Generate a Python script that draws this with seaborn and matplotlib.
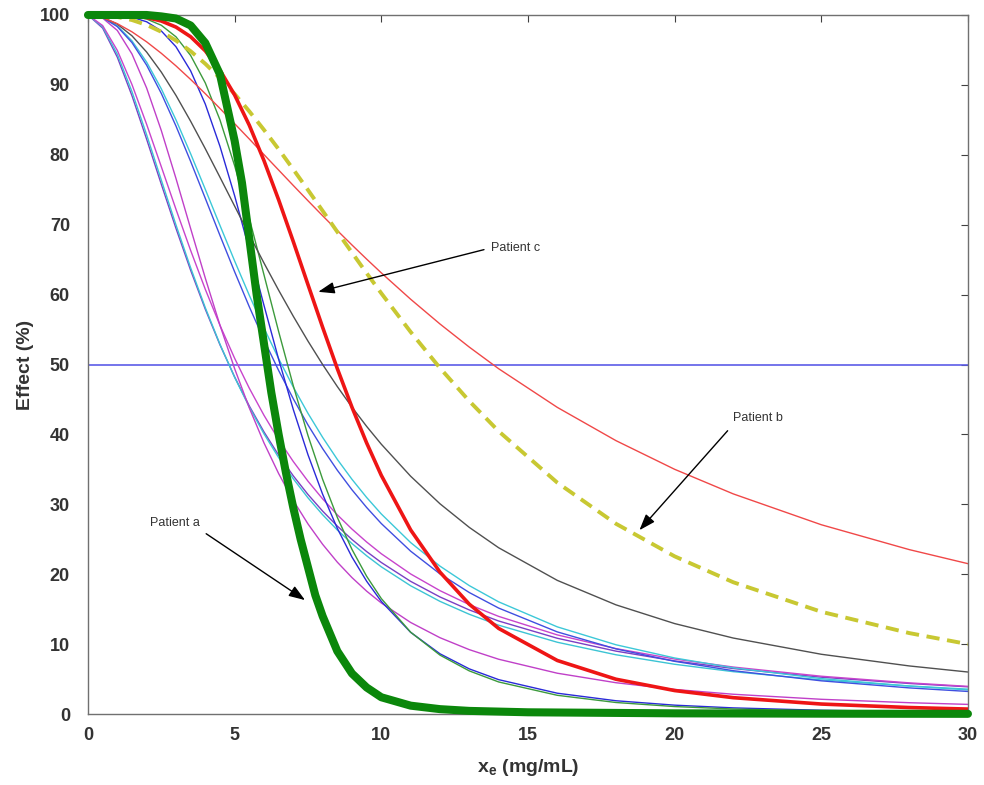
import numpy as np
import pandas as pd
import matplotlib
matplotlib.use("Agg")
import matplotlib.pyplot as plt
import seaborn as sns

# ---------------- data ----------------
conc = [0, 0.5, 1, 1.5, 2, 2.5, 3, 3.5, 4, 4.5, 5, 5.5, 6, 6.5, 7, 7.5, 8, 8.5, 9, 9.5,
        10, 11, 12, 13, 14, 16, 18, 20, 22, 25, 28, 30]

violet = [100, 98.13, 93.97, 88.45, 82.23, 75.79, 69.48, 63.48, 57.91, 52.82, 48.22,
          44.07, 40.36, 37.04, 34.07, 31.41, 29.03, 26.89, 24.97, 23.24, 21.68, 18.98,
          16.75, 14.89, 13.31, 10.84, 9.00, 7.60, 6.51, 5.27, 4.37, 3.89]
cyan_low = [100, 98.32, 94.39, 89.03, 82.86, 76.39, 69.97, 63.84, 58.13, 52.90, 48.17,
            43.91, 40.09, 36.68, 33.65, 30.93, 28.51, 26.33, 24.39, 22.64, 21.06, 18.35,
            16.12, 14.27, 12.71, 10.27, 8.48, 7.12, 6.06, 4.88, 4.01, 3.56]
magenta_up = [100, 98.49, 94.94, 90.05, 84.36, 78.30, 72.21, 66.32, 60.76, 55.61, 50.89,
              46.61, 42.74, 39.25, 36.12, 33.31, 30.78, 28.50, 26.46, 24.61, 22.93, 20.04,
              17.65, 15.65, 13.97, 11.32, 9.36, 7.87, 6.72, 5.41, 4.46, 3.96]
magenta_low = [100, 99.56, 97.79, 94.42, 89.55, 83.47, 76.62, 69.45, 62.36, 55.62, 49.41,
               43.79, 38.79, 34.40, 30.55, 27.20, 24.28, 21.73, 19.52, 17.58, 15.89, 13.10,
               10.92, 9.21, 7.84, 5.84, 4.48, 3.52, 2.83, 2.11, 1.62, 1.38]
cyan_top = [100, 99.66, 98.45, 96.30, 93.26, 89.44, 85.00, 80.15, 75.06, 69.90, 64.81,
            59.90, 55.22, 50.84, 46.77, 43.02, 39.58, 36.43, 33.58, 30.98, 28.62, 24.53,
            21.16, 18.37, 16.05, 12.47, 9.91, 8.02, 6.61, 5.07, 4.00, 3.45]
blue_mid = [100, 99.63, 98.34, 96.05, 92.82, 88.78, 84.12, 79.05, 73.77, 68.46, 63.26,
            58.26, 53.54, 49.15, 45.09, 41.36, 37.97, 34.88, 32.08, 29.55, 27.25, 23.30,
            20.05, 17.38, 15.16, 11.75, 9.32, 7.54, 6.20, 4.75, 3.74, 3.23]
blue_steep = [100, 100, 99.93, 99.68, 99.03, 97.72, 95.46, 92.01, 87.25, 81.21, 74.14,
              66.41, 58.47, 50.75, 43.56, 37.10, 31.44, 26.57, 22.46, 19.00, 16.11, 11.69,
              8.62, 6.46, 4.92, 2.98, 1.90, 1.27, 0.88, 0.54, 0.35, 0.26]
green_thin = [100, 100, 99.97, 99.83, 99.42, 98.53, 96.88, 94.21, 90.28, 84.99, 78.44,
              70.91, 62.84, 54.72, 46.96, 39.85, 33.57, 28.14, 23.55, 19.71, 16.52, 11.71,
              8.43, 6.17, 4.59, 2.68, 1.65, 1.07, 0.72, 0.42, 0.26, 0.20]
gray = [100, 99.69, 98.69, 97.02, 94.70, 91.83, 88.50, 84.80, 80.87, 76.79, 72.66,
        68.55, 64.52, 60.63, 56.90, 53.35, 50.00, 46.85, 43.90, 41.15, 38.60, 34.02,
        30.08, 26.70, 23.79, 19.12, 15.62, 12.94, 10.87, 8.55, 6.88, 6.01]
red_thin = [100, 99.61, 98.76, 97.59, 96.16, 94.52, 92.72, 90.78, 88.74, 86.63, 84.45,
            82.26, 80.03, 77.82, 75.61, 73.43, 71.28, 69.17, 67.10, 65.08, 63.11, 59.34,
            55.80, 52.49, 49.40, 43.87, 39.11, 35.01, 31.49, 27.08, 23.52, 21.51]
patient_b = [100, 99.95, 99.72, 99.28, 98.58, 97.60, 96.35, 94.82, 93.02, 90.97, 88.70,
             86.22, 83.57, 80.80, 77.91, 74.97, 71.98, 68.98, 66.01, 63.07, 60.19, 54.66,
             49.50, 44.77, 40.46, 33.10, 27.22, 22.56, 18.85, 14.63, 11.58, 10.00]
patient_c = [100, 100, 99.98, 99.88, 99.64, 99.14, 98.27, 96.89, 94.87, 92.11, 88.56,
             84.23, 79.17, 73.56, 67.58, 61.43, 55.32, 49.42, 43.89, 38.78, 34.14, 26.34,
             20.30, 15.71, 12.25, 7.66, 4.98, 3.36, 2.34, 1.43, 0.93, 0.71]

conc_a = [0, 1, 2, 2.5, 3, 3.5, 4, 4.5, 5, 5.25, 5.5, 5.75, 6, 6.25, 6.5, 6.75, 7, 7.25,
          7.5, 7.75, 8, 8.5, 9, 9.5, 10, 11, 12, 13, 15, 20, 25, 30]
patient_a = [100, 100, 100, 99.8, 99.5, 98.5, 96, 91.5, 82, 76, 68, 60, 53, 46, 40, 34.5,
             29.5, 25, 21, 17, 14, 9, 5.8, 3.8, 2.4, 1.2, 0.7, 0.45, 0.25, 0.1, 0.05, 0.03]

half_effect = 50
x_ticks = [0, 5, 10, 15, 20, 25, 30]
y_ticks = [0, 10, 20, 30, 40, 50, 60, 70, 80, 90, 100]

labels = ["Patient a", "Patient b", "Patient c"]
label_text_pos = [(2.1, 27.3), (22.0, 42.3), (13.75, 66.7)]
label_arrow_tip = [(7.4, 16.3), (18.8, 26.3), (7.85, 60.4)]

# ---------------- style ----------------
sns.set_theme(style="white")
plt.rcParams["font.family"] = ["Liberation Sans", "DejaVu Sans"]
plt.rcParams["lines.scale_dashes"] = False
plt.rcParams["mathtext.fontset"] = "custom"
plt.rcParams["mathtext.rm"] = "Liberation Sans"
plt.rcParams["mathtext.bf"] = "Liberation Sans:bold"

fig = plt.figure(figsize=(9.84, 7.85), dpi=100)
ax = fig.add_axes([0.0894, 0.0904, 0.8943, 0.8905])

ax.axhline(half_effect, color="#5c5ce8", lw=1.2, zorder=1)

thin = [
    (violet, "#7a3fc4"),
    (cyan_low, "#3cc4d4"),
    (magenta_up, "#c844cc"),
    (magenta_low, "#c040c8"),
    (cyan_top, "#3cc8d8"),
    (blue_mid, "#3f4fe0"),
    (blue_steep, "#2a2ad8"),
    (green_thin, "#3c9a3c"),
    (gray, "#505050"),
    (red_thin, "#f04848"),
]
for vals, col in thin:
    sns.lineplot(x=conc, y=vals, color=col, lw=1.0, ax=ax, zorder=2, sort=False,
                 errorbar=None)

sns.lineplot(x=conc, y=patient_b, color="#c8c832", lw=2.8, ax=ax, zorder=3,
             sort=False, errorbar=None)
ax.lines[-1].set_dashes([9.5, 5.5])
sns.lineplot(x=conc, y=patient_c, color="#ee1515", lw=2.6, ax=ax, zorder=4,
             sort=False, errorbar=None)
sns.lineplot(x=conc_a, y=patient_a, color="#0b870b", lw=5.8, ax=ax, zorder=5,
             sort=False, errorbar=None, clip_on=False)

relpos = [(1.0, 0.0), (0.0, 0.0), (0.0, 0.5)]
for lab, tp, tip, rp in zip(labels, label_text_pos, label_arrow_tip, relpos):
    ax.annotate(lab, xy=tip, xytext=tp, fontsize=9, color="#333333",
                ha="left", va="center", zorder=6,
                arrowprops=dict(arrowstyle="-|>,head_length=0.7,head_width=0.25",
                                color="black", lw=1.0, shrinkA=3, shrinkB=0,
                                relpos=rp, mutation_scale=14))

ax.set_xlim(0, 30)
ax.set_ylim(0, 100)
ax.set_xticks(x_ticks)
ax.set_yticks(y_ticks)
ax.tick_params(direction="in", length=5, width=0.8, top=True, right=True,
               color="#404040", labelcolor="#333333", labelsize=13)
ax.tick_params(axis="x", pad=9)
ax.tick_params(axis="y", pad=13)
for t in ax.get_xticklabels() + ax.get_yticklabels():
    t.set_fontweight("bold")
for s in ax.spines.values():
    s.set_color("#707070")
    s.set_linewidth(1.0)

ax.set_xlabel(r"$\mathbf{x_e}$ (mg/mL)", fontsize=14, fontweight="bold",
              color="#333333", labelpad=10)
ax.set_ylabel("Effect (%)", fontsize=14, fontweight="bold", color="#333333",
              labelpad=4)
ax.grid(False)

fig.savefig("out.png", dpi=100)
